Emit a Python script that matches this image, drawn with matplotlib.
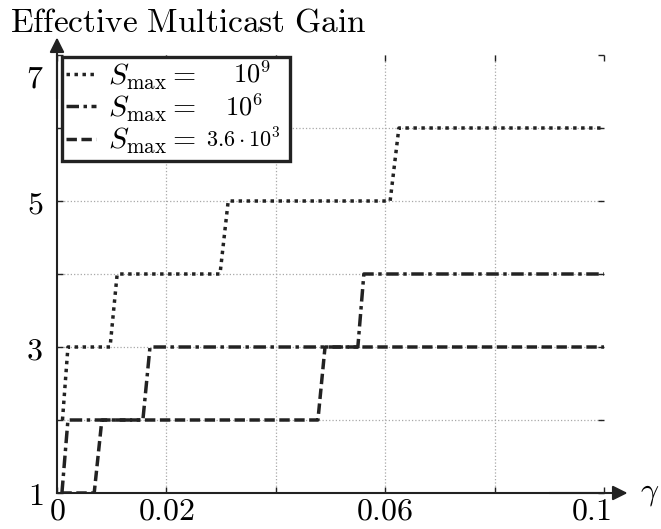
import matplotlib
matplotlib.use("Agg")
import matplotlib.pyplot as plt
import matplotlib.transforms as mtransforms

plt.rcParams.update({
    "mathtext.fontset": "cm",
    "font.family": "serif",
    "font.serif": ["DejaVu Serif"],
    "axes.unicode_minus": False,
})

# data (gamma, effective multicast gain)
gamma_1e9 = [0.001, 0.002, 0.0097, 0.011, 0.0298, 0.0313, 0.0609, 0.0625, 0.1]
gain_1e9 = [2, 3, 3, 4, 4, 5, 5, 6, 6]
gamma_1e6 = [0.0009, 0.002, 0.0157, 0.017, 0.055, 0.0561, 0.1]
gain_1e6 = [1, 2, 2, 3, 3, 4, 4]
gamma_36e3 = [0.0008, 0.0068, 0.0082, 0.0477, 0.049, 0.1]
gain_36e3 = [1, 1, 2, 2, 3, 3]

series_values = [r"$10^9$", r"$10^6$", r"$3.6\cdot10^3$"]
x_ticks = [0, 0.02, 0.04, 0.06, 0.08, 0.1]
x_labels = ["$0$", "$0.02$", "", "$0.06$", "", "$0.1$"]
y_ticks = [1, 2, 3, 4, 5, 6, 7]
y_labels = ["$1$", "", "$3$", "", "$5$", "", "$7$"]

INK = "#222222"
W, H = 661, 529

fig = plt.figure(figsize=(W / 100, H / 100), dpi=100)
ax = fig.add_axes([57 / W, 36 / H, 547 / W, 438 / H])

lw = 2.5
h1, = ax.plot(gamma_1e9, gain_1e9, color=INK, lw=lw, ls=(0, (1, 1.3)),
              dash_capstyle="butt", label=r"$S_{\max} =$")
h2, = ax.plot(gamma_1e6, gain_1e6, color=INK, lw=lw, ls=(0, (3.6, 1.3, 1, 1.3)),
              dash_capstyle="butt", label=r"$S_{\max} =$")
h3, = ax.plot(gamma_36e3, gain_36e3, color=INK, lw=lw, ls=(0, (3.0, 1.3)),
              dash_capstyle="butt", label=r"$S_{\max} =$")

ax.set_xlim(0, 0.1)
ax.set_ylim(1, 7)
ax.set_xticks(x_ticks)
ax.set_xticklabels(x_labels)
ax.set_yticks(y_ticks)
ax.set_yticklabels(y_labels)
ax.tick_params(direction="in", length=4, width=1, color=INK, top=True, right=True,
               labelsize=23, pad=2)
ax.tick_params(axis="y", pad=10)

ax.grid(True, ls=":", color="#a8a8a8", lw=0.9)
for g in [ax.get_ygridlines()[0], ax.get_ygridlines()[-1],
          ax.get_xgridlines()[0], ax.get_xgridlines()[-1]]:
    g.set_visible(False)

for s in ["top", "right"]:
    ax.spines[s].set_visible(False)
for s in ["left", "bottom"]:
    ax.spines[s].set_linewidth(1.5)
    ax.spines[s].set_color(INK)

# axis arrows
arrow = dict(arrowstyle="-|>", lw=1.5, color=INK, mutation_scale=22, shrinkA=0, shrinkB=0)
ax.annotate("", xy=(1.043, 0), xytext=(0.9, 0), xycoords="axes fraction",
            arrowprops=arrow, annotation_clip=False)
ax.annotate("", xy=(0, 1.04), xytext=(0, 0.9), xycoords="axes fraction",
            arrowprops=arrow, annotation_clip=False)

# nudge a couple of tick labels like the original
lab7 = ax.get_yticklabels()[-1]
lab7.set_transform(lab7.get_transform() +
                   mtransforms.ScaledTranslation(0, -20 / 100, fig.dpi_scale_trans))
lab01 = ax.get_xticklabels()[-1]
lab01.set_transform(lab01.get_transform() +
                    mtransforms.ScaledTranslation(-13 / 100, 0, fig.dpi_scale_trans))

fig.text(10 / W, 1 - 32 / H, r"$\mathrm{Effective\ Multicast\ Gain}$",
         fontsize=24, ha="left", va="baseline", color="black")
fig.text(640 / W, 1 - 500 / H, r"$\gamma$", fontsize=23, ha="left", va="baseline")

leg = ax.legend(handles=[h1, h2, h3], loc="upper left",
                bbox_to_anchor=(5 / 547, 1 - 2 / 438, 228 / 547, 0), mode="expand",
                borderaxespad=0, fontsize=21.5, handlelength=1.0, handletextpad=0.4,
                labelspacing=0.08, borderpad=0.15, fancybox=False, framealpha=1,
                edgecolor=INK)
leg.get_frame().set_linewidth(2.4)

fig.canvas.draw()
for t, val, fs, dx in zip(leg.get_texts(), series_values, [19, 19, 16], [37, 29, 10]):
    tb = t.get_window_extent()
    fig.text((tb.x1 + dx) / W, (tb.y0 + 9) / H, val, fontsize=fs,
             ha="left", va="baseline")

fig.savefig("out.png", dpi=100)
